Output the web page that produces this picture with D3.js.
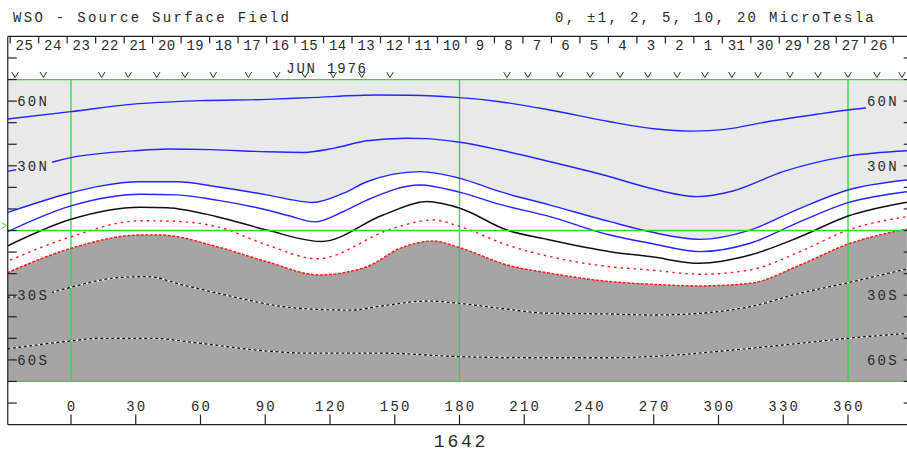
<!DOCTYPE html>
<html>
<head>
<meta charset="utf-8">
<script src="https://cdn.jsdelivr.net/npm/d3@7"></script>
<style>
body { margin: 0; background: #fff; }
svg { display: block; }
text { font-family: "Liberation Mono", monospace; fill: #2a2a2a; }
</style>
</head>
<body>
<script>
var width = 907;
var height = 452;

// carrington longitude ticks (bottom) and latitude ticks (sides)
var lonTicks = [0, 30, 60, 90, 120, 150, 180, 210, 240, 270, 300, 330, 360];
var latTicks = [-80, -70, -60, -50, -40, -30, -20, -10, 0, 10, 20, 30, 40, 50, 60, 70, 80];
var latLabelValues = [60, 30, -30, -60];
var latLabelText = ["60N", "30N", "30S", "60S"];

// days along the top, right to left in time
var dayLabels = ["25","24","23","22","21","20","19","18","17","16","15","14","13","12","11","10",
                 "9","8","7","6","5","4","3","2","1","31","30","29","28","27","26"];
var day9Lon = 183.0;          // left edge of day "9"
var dayStep = 360 / 27.2753;  // degrees per day

// longitudes with observations (the v marks)
var obsLon = [-25.9, -12.8, 14.2, 26.5, 39.7, 52.8, 65.9, 82.2, 95.3, 108.4, 121.5, 134.7, 147.8,
              202.0, 211.7, 226.6, 240.5, 254.4, 267.3, 280.8, 293.7, 306.2, 318.3, 333.1, 346.1, 360.0, 373.4, 385.0];

// contours [longitude, latitude]
var pos10 = [[-29.5,51.7],[0,55.1],[28.7,58.6],[59.8,60.2],[90.8,60.8],[110.7,61.6],[141.8,62.8],[157.1,62.7],
             [180.2,61.6],[198.8,59.7],[221.9,55.9],[249.7,50.4],[270,47.2],[288,46.1],[303,46.9],[322.5,50.4],
             [345.6,53.9],[360,55.9],[387.3,58.4]];
var pos5 = [[-29.5,27.4],[-10.7,31.2],[0,33.8],[28.7,36.9],[45,37.8],[65,37.5],[90.8,36.5],[108,36.2],
            [122,38.2],[137.1,41.6],[155,42.8],[165,42.6],[180.2,40.9],[198.8,37.3],[221.9,31.9],[249.7,24.9],
            [268.3,19.6],[290,15.7],[306.7,18.3],[329.9,27.3],[360,34.5],[387.3,37.0]];
var pos2 = [[-29.5,8.3],[0,17.5],[13.4,20.6],[32,22.6],[49.1,22.6],[67.6,20.3],[90.8,16.5],[101.5,14.4],
            [112,13.0],[126,17.2],[137.1,22.6],[161.7,27.3],[180.2,24.2],[198.8,18.0],[221.9,11.8],[249.7,4.1],
            [268.3,-0.6],[291.4,-4.1],[314.6,0.2],[337.8,10.3],[360,18.8],[387.3,23.4]];
var pos1 = [[-29.5,-0.6],[0,11.4],[32,16.8],[49.1,16.5],[67.6,14.1],[90.8,9.5],[101.5,6.7],[113,4.0],
            [126,8.7],[137.1,14.1],[161.7,21.1],[180.2,17.7],[198.8,12.1],[221.9,6.4],[249.7,-2.1],[268.3,-5.9],
            [291.4,-9.8],[314.6,-5.9],[337.8,4.1],[360,12.9],[387.3,18.0]];
var neutral = [[-29.5,-7.2],[0,5.2],[32,10.8],[44.5,10.6],[67.6,6.4],[90.8,0.2],[116,-5.1],
               [144.6,7.2],[164.9,13.4],[180.2,10.3],[202,0.2],[221.9,-4.4],[249.7,-9.8],
               [268.3,-12.1],[291.4,-15.2],[314.6,-11.4],[337.8,-2.9],[360,6.7],[387.3,13.1]];
var neg1 = [[-28.2,-13.7],[0,-2.9],[32,4.5],[44.5,4.4],[67.6,1.8],[90.8,-6.7],[114,-13.1],
            [149.2,1.0],[167.7,4.9],[180.2,1.8],[202,-6.7],[221.9,-12.1],[249.7,-16.8],
            [268.3,-18.3],[291.4,-20.3],[314.6,-18.3],[337.8,-9.8],[360,0.2],[387.3,6.4]];
var neg2 = [[-29.5,-19.6],[0,-8.3],[32,-2.1],[41.2,-2.1],[67.6,-7.5],[90.8,-14.5],[115,-20.6],
            [137.1,-16.8],[152.4,-8.3],[167.7,-4.9],[180.2,-8.0],[202,-16.0],[221.9,-19.8],[249.7,-23.7],
            [268.3,-24.9],[291.4,-25.7],[314.6,-24.5],[337.8,-16.0],[360,-6.3],[387.3,0.7]];
var neg5 = [[-29.5,-31.0],[-10.7,-29.1],[0,-26.3],[21.3,-21.9],[35.2,-21.4],[51.9,-25.3],[75.1,-30.7],
            [98.2,-35.3],[110.7,-36.4],[129.3,-36.9],[144.6,-34.9],[164.9,-32.7],[180.2,-33.8],[198.8,-36.1],
            [221.9,-38.4],[249.7,-38.7],[268.3,-39.2],[291.4,-38.4],[314.6,-35.3],[337.8,-29.1],[360,-24.2],
            [387.3,-17.8]];
var neg10 = [[-29.5,-54.9],[0,-51.2],[13.4,-50.0],[36.6,-50.0],[59.8,-52.3],[90.8,-55.9],[110.7,-56.9],
             [144.6,-56.9],[180.2,-58.5],[214,-59.0],[249.7,-59.0],[276.1,-58.0],[306.7,-55.4],[337.8,-52.3],
             [360,-50.0],[387.3,-47.7]];

var x = d3.scaleLinear().domain([0, 360]).range([71, 848]);
var y = d3.scaleLinear().domain([90, -90]).range([36.4, 424.6]);

var lonLeft = -29.3, lonRight = 390;
var green = "#26e026";

var svg = d3.select("body").append("svg").attr("width", width).attr("height", height);

svg.append("defs").append("clipPath").attr("id", "plot")
  .append("rect")
    .attr("x", x(lonLeft)).attr("y", y(70))
    .attr("width", x(lonRight) - x(lonLeft)).attr("height", y(-70) - y(70));

var curve = d3.curveMonotoneX;
var line = d3.line().x(d => x(d[0])).y(d => y(d[1])).curve(curve);
var areaBelow = d3.area().x(d => x(d[0])).y0(d => y(d[1])).y1(y(-70)).curve(curve);

var plot = svg.append("g").attr("clip-path", "url(#plot)");

// shading: light gray above +2, white band, dark gray below -2
plot.append("rect")
  .attr("x", x(lonLeft)).attr("y", y(70))
  .attr("width", x(lonRight) - x(lonLeft)).attr("height", y(-70) - y(70))
  .attr("fill", "#e9e9e9");
plot.append("path").datum(pos2).attr("d", areaBelow).attr("fill", "#fff");
plot.append("path").datum(neg2).attr("d", areaBelow).attr("fill", "#a5a5a5");

// green grid
plot.selectAll(".gv").data([0, 180, 360]).enter().append("line")
  .attr("x1", d => x(d)).attr("x2", d => x(d))
  .attr("y1", y(70)).attr("y2", y(-70))
  .attr("stroke", green).attr("stroke-width", 1.3);

// contours
[pos10, pos5, pos2, pos1].forEach(function(c) {
  plot.append("path").datum(c).attr("d", line)
    .attr("fill", "none").attr("stroke", "#2424ff").attr("stroke-width", 1.4);
});
plot.append("path").datum(neutral).attr("d", line)
  .attr("fill", "none").attr("stroke", "#111").attr("stroke-width", 1.5);
plot.append("path").datum(neg1).attr("d", line)
  .attr("fill", "none").attr("stroke", "#ff1c1c").attr("stroke-width", 1.4)
  .attr("stroke-dasharray", "2.5,4");
plot.append("path").datum(neg2).attr("d", line)
  .attr("fill", "none").attr("stroke", "#ff1c1c").attr("stroke-width", 1.5)
  .attr("stroke-dasharray", "3,1.5");
[neg5, neg10].forEach(function(c) {
  plot.append("path").datum(c).attr("d", line)
    .attr("fill", "none").attr("stroke", "#f4f4f4").attr("stroke-width", 1.3);
  plot.append("path").datum(c).attr("d", line)
    .attr("fill", "none").attr("stroke", "#111").attr("stroke-width", 1.3)
    .attr("stroke-dasharray", "3,2.5");
});

// green horizontal lines across the whole width
svg.selectAll(".gh").data([70, 0, -70]).enter().append("line")
  .attr("x1", x(lonLeft)).attr("x2", width)
  .attr("y1", d => y(d)).attr("y2", d => y(d))
  .attr("stroke", green).attr("stroke-width", 1.3);

// little green marker left of the equator
svg.append("path")
  .attr("d", "M" + (x(lonLeft) - 6) + "," + (y(0) - 8) + "l4.5,3l-4.5,3")
  .attr("fill", "none").attr("stroke", green).attr("stroke-width", 1);

// frame
var frame = svg.append("g").attr("stroke", "#222").attr("stroke-width", 1.2);
frame.append("line").attr("x1", x(lonLeft)).attr("x2", x(lonLeft)).attr("y1", y(90)).attr("y2", y(-90));
frame.append("line").attr("x1", x(lonLeft)).attr("x2", x(lonRight)).attr("y1", y(90)).attr("y2", y(90));
frame.append("line").attr("x1", x(lonLeft)).attr("x2", x(lonRight)).attr("y1", y(-90)).attr("y2", y(-90));

// latitude ticks, both sides
frame.selectAll(".tl").data(latTicks).enter().append("line")
  .attr("x1", x(lonLeft)).attr("x2", x(lonLeft) + 9)
  .attr("y1", d => y(d)).attr("y2", d => y(d));
frame.selectAll(".tr").data(latTicks).enter().append("line")
  .attr("x1", x(lonRight)).attr("x2", x(lonRight) - 9)
  .attr("y1", d => y(d)).attr("y2", d => y(d));

// longitude ticks and labels
frame.selectAll(".tb").data(lonTicks).enter().append("line")
  .attr("x1", d => x(d)).attr("x2", d => x(d))
  .attr("y1", y(-90)).attr("y2", y(-90) - 10);
svg.selectAll(".lb").data(lonTicks).enter().append("text")
  .attr("x", d => x(d) + 1).attr("y", y(-90) - 13.5)
  .attr("text-anchor", "middle")
  .style("font-size", "14px").style("letter-spacing", "2.2px")
  .text(d => d);

// day ticks along the top
var dayTickLon = d3.range(dayLabels.length + 1).map(i => day9Lon + (i - 16) * dayStep);
frame.selectAll(".td").data(dayTickLon).enter().append("line")
  .attr("x1", d => x(d)).attr("x2", d => x(d))
  .attr("y1", y(90)).attr("y2", y(90) + 7);
svg.selectAll(".ld").data(dayLabels).enter().append("text")
  .attr("x", (d, i) => x(dayTickLon[i] + dayStep / 2))
  .attr("y", 50)
  .attr("text-anchor", "middle")
  .style("font-size", "14px").style("letter-spacing", "0.4px")
  .text(d => d);

// observation marks
svg.selectAll(".obs").data(obsLon).enter().append("path")
  .attr("d", d => "M" + (x(d) - 3.3) + ",72l3.3,5.5l3.3,-5.5")
  .attr("fill", "none").attr("stroke", "#333").attr("stroke-width", 1);

// latitude labels with a patch of background behind them
function latLabel(side) {
  var g = svg.append("g");
  var t = g.selectAll("text").data(latLabelValues).enter().append("text")
    .attr("x", side == "left" ? x(lonLeft) + 9.5 : x(lonRight) - 14)
    .attr("y", d => y(d) + 5)
    .attr("text-anchor", side == "left" ? "start" : "end")
    .style("font-size", "14px").style("letter-spacing", "2.2px")
    .text((d, i) => latLabelText[i]);
  t.each(function(d) {
    var b = this.getBBox();
    var w = side == "left" ? b.width + 4 : width - b.x + 2;
    g.insert("rect", "text")
      .attr("x", b.x - 1).attr("y", b.y + 1)
      .attr("width", w).attr("height", b.height - 2)
      .attr("fill", d > 0 ? "#e9e9e9" : "#a5a5a5");
  });
}
latLabel("left");
latLabel("right");
// right-side ticks go over the label patches
frame.raise();

// titles
svg.append("text").attr("x", 13).attr("y", 22)
  .style("font-size", "14px").style("letter-spacing", "2.3px")
  .text("WSO - Source Surface Field");
svg.append("text").attr("x", 555).attr("y", 22)
  .style("font-size", "14px").style("letter-spacing", "2.3px")
  .text("0, ±1, 2, 5, 10, 20 MicroTesla");
svg.append("text").attr("x", 327).attr("y", 73)
  .attr("text-anchor", "middle")
  .style("font-size", "14px").style("letter-spacing", "1.8px")
  .text("JUN 1976");
svg.append("text").attr("x", x(180) + 1.5).attr("y", 447)
  .attr("text-anchor", "middle")
  .style("font-size", "18px").style("letter-spacing", "2.8px")
  .text("1642");
</script>
</body>
</html>
